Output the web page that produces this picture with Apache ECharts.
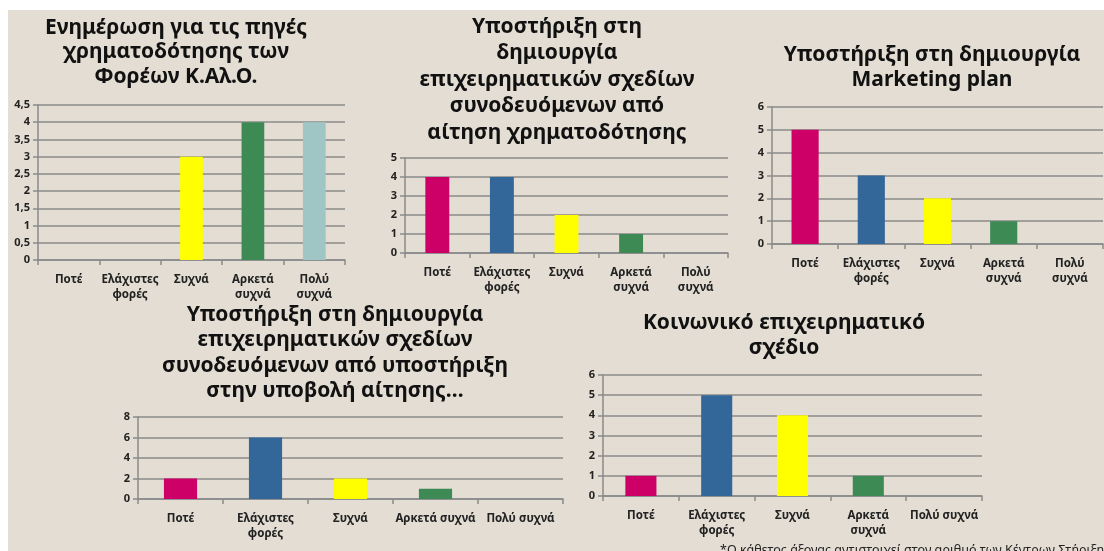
<!DOCTYPE html>
<html><head><meta charset="utf-8">
<script src="https://cdn.jsdelivr.net/npm/echarts@6/dist/echarts.min.js"></script>
<style>html,body{margin:0;padding:0;background:#fff}#c{width:1104px;height:551px}</style>
</head><body><div id="c"></div>
<script>
const categories = ['Ποτέ','Ελάχιστες φορές','Συχνά','Αρκετά συχνά','Πολύ συχνά'];
const labels1 = ['Ποτέ','Ελάχιστες\nφορές','Συχνά','Αρκετά\nσυχνά','Πολύ\nσυχνά'];
const labels2 = ['Ποτέ','Ελάχιστες\nφορές','Συχνά','Αρκετά\nσυχνά','Πολύ\nσυχνά'];
const labels3 = ['Ποτέ','Ελάχιστες\nφορές','Συχνά','Αρκετά\nσυχνά','Πολύ\nσυχνά'];
const labels4 = ['Ποτέ','Ελάχιστες\nφορές','Συχνά','Αρκετά συχνά','Πολύ συχνά'];
const labels5 = ['Ποτέ','Ελάχιστες\nφορές','Συχνά','Αρκετά\nσυχνά','Πολύ συχνά'];
const values1 = [0,0,3,4,4];
const values2 = [4,4,2,1,0];
const values3 = [5,3,2,1,0];
const values4 = [2,6,2,1,0];
const values5 = [1,5,4,1,0];
const title1 = ['Ενημέρωση για τις πηγές','χρηματοδότησης των','Φορέων Κ.Αλ.Ο.'];
const title2 = ['Υποστήριξη στη','δημιουργία','επιχειρηματικών σχεδίων','συνοδευόμενων από','αίτηση χρηματοδότησης'];
const title3 = ['Υποστήριξη στη δημιουργία','Marketing plan'];
const title4 = ['Υποστήριξη στη δημιουργία','επιχειρηματικών σχεδίων','συνοδευόμενων από υποστήριξη','στην υποβολή αίτησης…'];
const title5 = ['Κοινωνικό επιχειρηματικό','σχέδιο'];
const yMax = [4.5,5,6,8,6];
const yInterval = [0.5,1,1,2,1];
const footnote = '*Ο κάθετος άξονας αντιστοιχεί στον αριθμό των Κέντρων Στήριξης';

const barColors = ['#cc0066','#336699','#ffff00','#3d8a55','#9fc6c4'];
const FONT = 'Noto Sans';
const grids = [
  {left:38, top:105, width:307, height:155},
  {left:405, top:158, width:323, height:95},
  {left:772, top:107, width:331, height:137},
  {left:138, top:417, width:425, height:82},
  {left:603, top:375, width:379, height:121}
];
const barW = ['37%','37%','41%','39%','41%'];
const allLabels = [labels1,labels2,labels3,labels4,labels5];
const allValues = [values1,values2,values3,values4,values5];
const titles = [title1,title2,title3,title4,title5];
const titlePos = [
  {x:176, y:28, lh:24.5},
  {x:557, y:27, lh:26.5},
  {x:932, y:55, lh:25},
  {x:335, y:315, lh:25.5},
  {x:784, y:323, lh:25}
];
const gray = '#8a8a8a';

const graphic = [{type:'rect', shape:{x:8,y:10,width:1096,height:541}, style:{fill:'#e3ddd3'}, z:-10}];
titles.forEach((t,i)=>{
  t.forEach((line,j)=>{
    graphic.push({type:'text', x:titlePos[i].x, y:titlePos[i].y + j*titlePos[i].lh,
      style:{text:line, font:'bold 21px "'+FONT+'"', fill:'#111', textAlign:'center', textVerticalAlign:'middle'}});
  });
});
graphic.push({type:'text', x:720, y:550, style:{text:footnote, font:'12.5px "'+FONT+'"', fill:'#222', textAlign:'left', textVerticalAlign:'middle'}});

const option = {
  animation:false,
  backgroundColor:'#ffffff',
  graphic: graphic,
  grid: grids,
  xAxis: grids.map((g,i)=>({
    type:'category', gridIndex:i, data: allLabels[i],
    axisLine:{show:true, lineStyle:{color:gray, width:1.5}},
    axisTick:{show:true, length:5, alignWithLabel:false, lineStyle:{color:gray, width:1.5}},
    axisLabel:{interval:0, margin:12, fontFamily:FONT, fontWeight:'bold', fontSize:11.5, color:'#222', lineHeight:15}
  })),
  yAxis: grids.map((g,i)=>({
    type:'value', gridIndex:i, min:0, max:yMax[i], interval:yInterval[i],
    axisLine:{show:true, lineStyle:{color:gray, width:1.5}},
    axisTick:{show:true, length:5, lineStyle:{color:gray, width:1.5}},
    splitLine:{show:true, lineStyle:{color:gray, width:1.5}},
    axisLabel:{margin:8, fontFamily:FONT, fontWeight:'bold', fontSize:11, color:'#222',
      formatter:v=>String(v).replace('.',',')}
  })),
  series: allValues.map((vals,i)=>({
    type:'bar', xAxisIndex:i, yAxisIndex:i, barWidth:barW[i],
    data: vals.map((v,k)=>({value:v, itemStyle:{color:barColors[k]}}))
  }))
};
const chart = echarts.init(document.getElementById('c'));
chart.setOption(option);
</script></body></html>
